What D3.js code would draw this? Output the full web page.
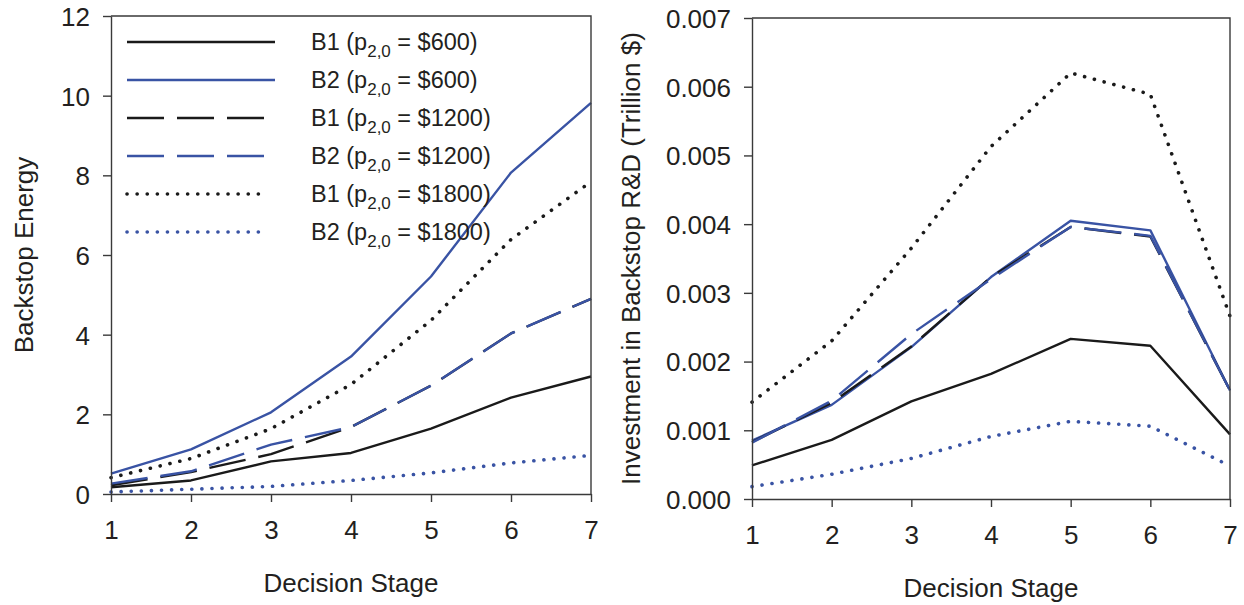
<!DOCTYPE html>
<html>
<head>
<meta charset="utf-8">
<script src="https://cdn.jsdelivr.net/npm/d3@7"></script>
<style>
  body { margin: 0; background: #fff; }
  svg text { font-family: "Liberation Sans", Arial, sans-serif; fill: #231f20; }
</style>
</head>
<body>
<svg id="chart" width="1244" height="605"></svg>
<script>
// decision stages on the x axis
var stages = [1, 2, 3, 4, 5, 6, 7];

// series labels (legend) : backstop + initial price
var seriesNames = ["B1", "B2", "B1", "B2", "B1", "B2"];
var seriesPrices = ["$600", "$600", "$1200", "$1200", "$1800", "$1800"];

// left panel: backstop energy
var energyB1p600  = [0.17, 0.34, 0.82, 1.03, 1.64, 2.42, 2.95];
var energyB2p600  = [0.51, 1.12, 2.05, 3.45, 5.46, 8.07, 9.82];
var energyB1p1200 = [0.22, 0.55, 1.00, 1.68, 2.72, 4.03, 4.90];
var energyB2p1200 = [0.26, 0.57, 1.24, 1.68, 2.72, 4.03, 4.90];
var energyB1p1800 = [0.41, 0.89, 1.64, 2.75, 4.36, 6.39, 7.84];
var energyB2p1800 = [0.05, 0.12, 0.19, 0.34, 0.53, 0.78, 0.97];

// right panel: investment in backstop R&D (trillion $)
var rdB1p600  = [0.00049, 0.00086, 0.00142, 0.00182, 0.00233, 0.00223, 0.00094];
var rdB2p600  = [0.00085, 0.00137, 0.00221, 0.00323, 0.00405, 0.00391, 0.00158];
var rdB1p1200 = [0.00083, 0.00140, 0.00222, 0.00323, 0.00396, 0.00382, 0.00158];
var rdB2p1200 = [0.00082, 0.00143, 0.00240, 0.00320, 0.00396, 0.00383, 0.00158];
var rdB1p1800 = [0.00141, 0.00230, 0.00365, 0.00513, 0.00620, 0.00589, 0.00266];
var rdB2p1800 = [0.00018, 0.00036, 0.00059, 0.00091, 0.00113, 0.00106, 0.00048];

var energyTicks = [0, 2, 4, 6, 8, 10, 12];
var rdTicks = [0, 0.001, 0.002, 0.003, 0.004, 0.005, 0.006, 0.007];

// line styles per series (same order as the arrays)
var blue = "#3953a4";
var black = "#1a1a1a";
var styles = [
  {color: black, dash: null},
  {color: blue,  dash: null},
  {color: black, dash: "37,13"},
  {color: blue,  dash: "37,13"},
  {color: black, dash: "0.1,10", dotted: true},
  {color: blue,  dash: "0.1,10", dotted: true}
];

var svg = d3.select("#chart");

function drawPanel(opts) {
  var x = d3.scaleLinear().domain([1, 7]).range([opts.left, opts.right]);
  var y = d3.scaleLinear().domain(opts.yDomain).range([opts.bottom, opts.top]);
  var g = svg.append("g");

  // series lines
  var line = d3.line()
    .x(function(d, i) { return x(stages[i]); })
    .y(function(d) { return y(d); });

  opts.series.forEach(function(values, i) {
    var st = styles[i];
    g.append("path")
      .datum(values)
      .attr("d", line)
      .attr("fill", "none")
      .attr("stroke", st.color)
      .attr("stroke-width", st.dotted ? 3.6 : 2.4)
      .attr("stroke-linecap", st.dotted ? "round" : "butt")
      .attr("stroke-linejoin", "round")
      .attr("stroke-dasharray", st.dash);
  });

  // frame (top + right)
  g.append("path")
    .attr("d", "M" + opts.left + "," + opts.top + "H" + opts.right + "V" + opts.bottom)
    .attr("fill", "none")
    .attr("stroke", "#3a3a3a")
    .attr("stroke-width", 1.4);

  // axes
  var xAxis = g.append("g")
    .attr("transform", "translate(0," + opts.bottom + ")")
    .call(d3.axisBottom(x).tickValues(stages).tickFormat(d3.format("d")).tickSizeInner(8).tickSizeOuter(0).tickPadding(19));
  var yAxis = g.append("g")
    .attr("transform", "translate(" + opts.left + ",0)")
    .call(d3.axisLeft(y).tickValues(opts.ticks).tickFormat(opts.fmt).tickSizeInner(8).tickSizeOuter(0).tickPadding(13));

  [xAxis, yAxis].forEach(function(a) {
    a.select(".domain").attr("stroke", "#3a3a3a").attr("stroke-width", 1.4);
    a.selectAll(".tick line").attr("stroke", "#3a3a3a").attr("stroke-width", 1.4);
    a.selectAll(".tick text").style("font-size", "26px").attr("fill", "#231f20");
  });
  yAxis.selectAll(".tick text").attr("dy", "0.36em");

  // axis titles
  g.append("text")
    .attr("x", (opts.left + opts.right) / 2)
    .attr("y", opts.xTitleY)
    .attr("text-anchor", "middle")
    .style("font-size", "26px")
    .text("Decision Stage");

  g.append("text")
    .attr("transform", "translate(" + opts.yTitleX + "," + ((opts.top + opts.bottom) / 2) + ") rotate(-90)")
    .attr("text-anchor", "middle")
    .style("font-size", "26px")
    .text(opts.yTitle);

  return {x: x, y: y, g: g};
}

var left = drawPanel({
  left: 111, right: 591, top: 16, bottom: 494,
  yDomain: [0, 12], ticks: energyTicks, fmt: d3.format("d"),
  series: [energyB1p600, energyB2p600, energyB1p1200, energyB2p1200, energyB1p1800, energyB2p1800],
  xTitleY: 592, yTitleX: 33, yTitle: "Backstop Energy"
});

drawPanel({
  left: 752, right: 1230, top: 18, bottom: 499,
  yDomain: [0, 0.007], ticks: rdTicks, fmt: d3.format(".3f"),
  series: [rdB1p600, rdB2p600, rdB1p1200, rdB2p1200, rdB1p1800, rdB2p1800],
  xTitleY: 597, yTitleX: 640, yTitle: "Investment in Backstop R&D (Trillion $)"
});

// legend in the left panel
var legend = left.g.append("g");
seriesNames.forEach(function(name, i) {
  var st = styles[i];
  var ly = 42 + i * 38;
  legend.append("line")
    .attr("x1", 127).attr("x2", st.dash ? (st.dotted ? 268 : 264) : 275)
    .attr("y1", ly).attr("y2", ly)
    .attr("stroke", st.color)
    .attr("stroke-width", st.dotted ? 3.6 : 2.4)
    .attr("stroke-linecap", st.dotted ? "round" : "butt")
    .attr("stroke-dasharray", st.dash);

  var t = legend.append("text")
    .attr("x", 311)
    .attr("y", ly + 8)
    .style("font-size", "23.5px");
  t.append("tspan").text(name + " (p");
  t.append("tspan").attr("dy", 7).style("font-size", "17px").text("2,0");
  t.append("tspan").attr("dy", -7).text(" = " + seriesPrices[i] + ")");
});
</script>
</body>
</html>
